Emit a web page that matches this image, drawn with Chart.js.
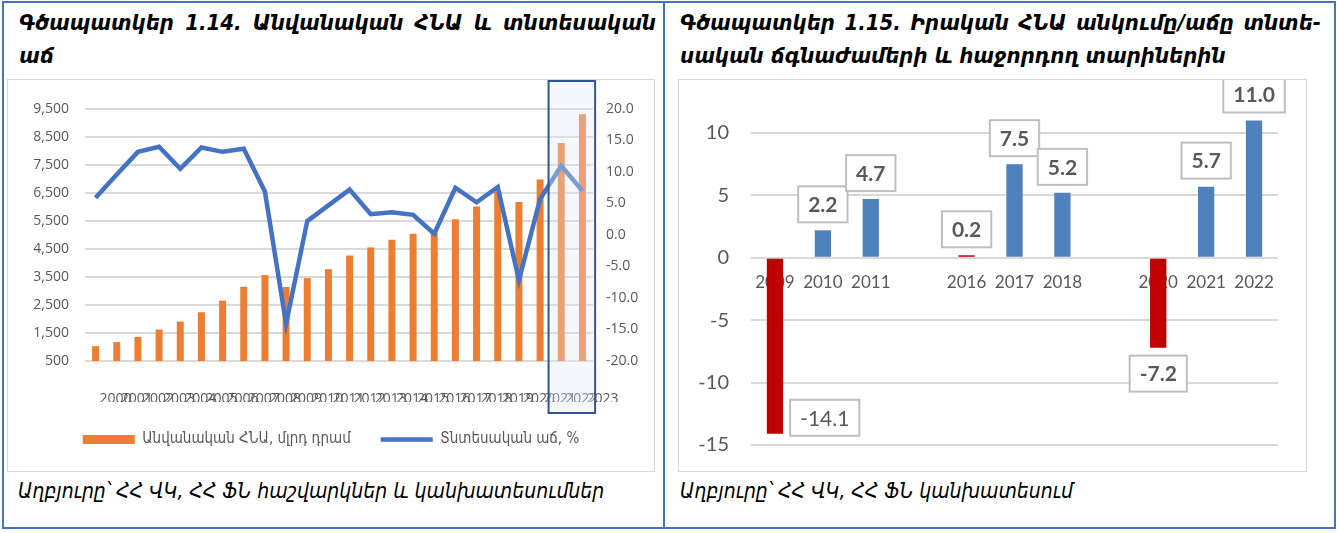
<!DOCTYPE html>
<html>
<head>
<meta charset="utf-8">
<script src="https://cdn.jsdelivr.net/npm/chart.js@4.4.1/dist/chart.umd.min.js"></script>
<style>
  body { margin: 0; background: #fff; }
  #outer { position: absolute; left: 2px; top: 1px; width: 1330px; height: 524px; border: 2px solid #4472C4; }
  #divider { position: absolute; left: 663px; top: 1px; width: 2px; height: 528px; background: #4472C4; }
  .title { position: absolute; top: 6px; font-family: "DejaVu Sans Condensed", "DejaVu Sans", sans-serif; font-weight: bold; font-style: italic; font-size: 22px; line-height: 33px; color: #000; }
  .title .l1 { display: block; text-align: justify; text-align-last: justify; white-space: nowrap; }
  .frame { position: absolute; top: 79px; width: 646px; height: 391px; border: 1.5px solid #d9d9d9; }
  .frame canvas { position: absolute; left: 0; top: 0; }
  .source { position: absolute; top: 479px; font-family: "DejaVu Sans Condensed", "DejaVu Sans", sans-serif; font-style: italic; font-size: 21px; color: #000; }
</style>
</head>
<body>
<div id="outer"></div>
<div id="divider"></div>

<div class="title" style="left:19px;width:637px">
  <span class="l1">Գծապատկեր 1.14. Անվանական ՀՆԱ և տնտեսական</span>աճ
</div>
<div class="title" style="left:680px;width:641px">
  <span class="l1">Գծապատկեր 1.15. Իրական ՀՆԱ անկումը/աճը տնտե-</span>սական ճգնաժամերի և հաջորդող տարիներին
</div>

<div class="frame" style="left:7px"><canvas id="chartLeft"></canvas></div>
<div class="frame" style="left:678px;width:627px"><canvas id="chartRight"></canvas></div>

<div class="source" style="left:18px">Աղբյուրը՝ ՀՀ ՎԿ, ՀՀ ՖՆ հաշվարկներ և կանխատեսումներ</div>
<div class="source" style="left:680px">Աղբյուրը՝ ՀՀ ՎԿ, ՀՀ ՖՆ կանխատեսում</div>

<script>
// --- Գծապատկեր 1.14 ---
const years = ['2000','2001','2002','2003','2004','2005','2006','2007','2008','2009','2010','2011',
  '2012','2013','2014','2015','2016','2017','2018','2019','2020','2021','2022','2023'];
const nominalGdp = [1031, 1176, 1362, 1624, 1907, 2242, 2656, 3149, 3568, 3142, 3460, 3777,
  4266, 4556, 4829, 5044, 5067, 5564, 6017, 6543, 6182, 6983, 8290, 9310];
const growth = [5.9, 9.6, 13.2, 14.0, 10.5, 13.9, 13.2, 13.7, 6.9, -14.1, 2.2, 4.7,
  7.2, 3.3, 3.6, 3.2, 0.2, 7.5, 5.2, 7.6, -7.2, 5.7, 11.0, 7.0];
const forecastYears = ['2022', '2023'];
const seriesNames = ['Անվանական ՀՆԱ, մլրդ դրամ', 'Տնտեսական աճ, %'];

// --- Գծապատկեր 1.15 ---
const crisisLabels = ['2009','2010','2011','','2016','2017','2018','','2020','2021','2022'];
const crisisGrowth = [-14.1, 2.2, 4.7, null, 0.2, 7.5, 5.2, null, -7.2, 5.7, 11.0];
const crisisYears = ['2009', '2016', '2020'];

const gray = '#595959';
const gridGray = '#d9d9d9';

function setupCanvas(id, w, h) {
  const c = document.getElementById(id);
  c.width = w; c.height = h;
  c.style.width = w + 'px'; c.style.height = h + 'px';
  return c;
}

// highlight box around forecast years
const forecastBox = {
  id: 'forecastBox',
  afterDatasetsDraw(chart) {
    const x = chart.scales.x;
    const i0 = years.indexOf(forecastYears[0]);
    const i1 = years.indexOf(forecastYears[forecastYears.length - 1]);
    const half = (x.getPixelForValue(1) - x.getPixelForValue(0)) / 2;
    const left = x.getPixelForValue(i0) - half * 1.2;
    const right = x.getPixelForValue(i1) + half * 1.2;
    const top = chart.chartArea.top - 28;
    const bottom = chart.chartArea.bottom + 52;
    const ctx = chart.ctx;
    ctx.save();
    ctx.fillStyle = 'rgba(226,233,246,0.35)';
    ctx.fillRect(left, top, right - left, bottom - top);
    ctx.strokeStyle = '#2F5597';
    ctx.lineWidth = 2;
    ctx.strokeRect(left, top, right - left, bottom - top);
    ctx.restore();
  }
};

new Chart(setupCanvas('chartLeft', 646, 397), {
  data: {
    labels: years,
    datasets: [
      {
        type: 'line',
        label: seriesNames[1],
        data: growth,
        yAxisID: 'y1',
        borderColor: '#4472C4',
        backgroundColor: '#4472C4',
        borderWidth: 4.5,
        pointRadius: 0,
        tension: 0,
        order: 1
      },
      {
        type: 'bar',
        label: seriesNames[0],
        data: nominalGdp,
        yAxisID: 'y',
        backgroundColor: '#ED7D31',
        barPercentage: 0.33,
        categoryPercentage: 1,
        order: 2
      }
    ]
  },
  options: {
    responsive: false,
    animation: false,
    layout: { padding: { top: 29, right: 0, left: 0, bottom: 20 } },
    plugins: {
      tooltip: { enabled: false },
      legend: {
        position: 'bottom',
        reverse: true,
        labels: {
          color: gray,
          font: { family: '"DejaVu Sans Condensed", "DejaVu Sans"', size: 15 },
          boxWidth: 52,
          boxHeight: 9,
          padding: 30,
          usePointStyle: true,
          pointStyleWidth: 52,
          generateLabels(chart) {
            return chart.data.datasets.map((ds, i) => ({
              text: ds.label,
              datasetIndex: i,
              fillStyle: ds.backgroundColor,
              strokeStyle: ds.borderColor || ds.backgroundColor,
              lineWidth: ds.type === 'line' ? 4.5 : 0,
              pointStyle: ds.type === 'line' ? 'line' : 'rect',
              fontColor: gray
            }));
          }
        }
      }
    },
    scales: {
      x: {
        grid: { display: false },
        border: { display: false },
        ticks: {
          color: gray,
          font: { family: '"Open Sans"', size: 14 },
          autoSkip: false,
          maxRotation: 0,
          minRotation: 0,
          labelOffset: 20,
          padding: 22
        },
        afterFit(s) { s.height = 41; }
      },
      y: {
        position: 'left',
        min: 500,
        max: 9500,
        ticks: {
          stepSize: 1000,
          color: gray,
          font: { family: '"Open Sans"', size: 14 },
          padding: 16,
          callback: v => v.toLocaleString('en-US')
        },
        grid: { color: gridGray, lineWidth: 2, drawTicks: false },
        border: { display: false },
        afterFit(s) { s.width = 77; }
      },
      y1: {
        position: 'right',
        min: -20,
        max: 20,
        ticks: {
          stepSize: 5,
          color: gray,
          font: { family: '"Open Sans"', size: 14 },
          padding: 13,
          callback: v => v.toFixed(1)
        },
        grid: { display: false, drawTicks: false },
        border: { display: false },
        afterFit(s) { s.width = 61; }
      }
    }
  },
  plugins: [forecastBox]
});

// value boxes for the crisis chart
const valueBoxes = {
  id: 'valueBoxes',
  afterDatasetsDraw(chart) {
    const ctx = chart.ctx;
    const meta = chart.getDatasetMeta(0);
    const area = chart.chartArea;
    ctx.save();
    meta.data.forEach((bar, i) => {
      const v = crisisGrowth[i];
      if (v === null) return;
      const text = v.toFixed(1);
      const h = 36, gap = 8;
      let bold = true;
      let left, top, w;
      ctx.font = 'bold 21px Lato';
      w = ctx.measureText(text).width + 20;
      if (v >= 0) {
        left = bar.x - w / 2;
        top = bar.y - gap - h;
      } else if (bar.y + gap + h <= area.bottom) {
        left = bar.x - w / 2;
        top = bar.y + gap;
      } else {
        bold = false;
        ctx.font = '21px Lato';
        w = ctx.measureText(text).width + 20;
        left = bar.x + bar.width / 2 + 7;
        top = bar.y - h + 2;
      }
      ctx.fillStyle = '#fff';
      ctx.fillRect(left, top, w, h);
      ctx.strokeStyle = '#bfbfbf';
      ctx.lineWidth = 2;
      ctx.strokeRect(left, top, w, h);
      ctx.fillStyle = gray;
      ctx.textAlign = 'center';
      ctx.textBaseline = 'middle';
      ctx.font = (bold ? 'bold ' : '') + '21px Lato';
      ctx.fillText(text, left + w / 2, top + h / 2 + 1);
    });
    ctx.restore();
  }
};

new Chart(setupCanvas('chartRight', 627, 391), {
  type: 'bar',
  data: {
    labels: crisisLabels,
    datasets: [{
      data: crisisGrowth,
      backgroundColor: crisisLabels.map(l => crisisYears.includes(l) ? '#C00000' : '#4F81BD'),
      barPercentage: 0.34,
      categoryPercentage: 1
    }]
  },
  options: {
    responsive: false,
    animation: false,
    layout: { padding: { top: 28, right: 28, left: 0, bottom: 26 } },
    plugins: { legend: { display: false }, tooltip: { enabled: false } },
    scales: {
      x: {
        position: { y: 0 },
        grid: { display: false },
        border: { display: false },
        ticks: {
          color: gray,
          font: { family: 'Lato', size: 17 },
          padding: 7,
          maxRotation: 0,
          autoSkip: false
        }
      },
      y: {
        min: -15,
        max: 12,
        ticks: {
          stepSize: 5,
          color: gray,
          font: { family: 'Lato', size: 20 },
          padding: 22
        },
        afterBuildTicks(s) { s.ticks = s.ticks.filter(t => t.value % 5 === 0); },
        grid: { color: gridGray, lineWidth: 2, drawTicks: false },
        border: { display: false },
        afterFit(s) { s.width = 72; s.paddingTop = 0; s.paddingBottom = 0; }
      }
    }
  },
  plugins: [valueBoxes]
});
</script>
</body>
</html>
